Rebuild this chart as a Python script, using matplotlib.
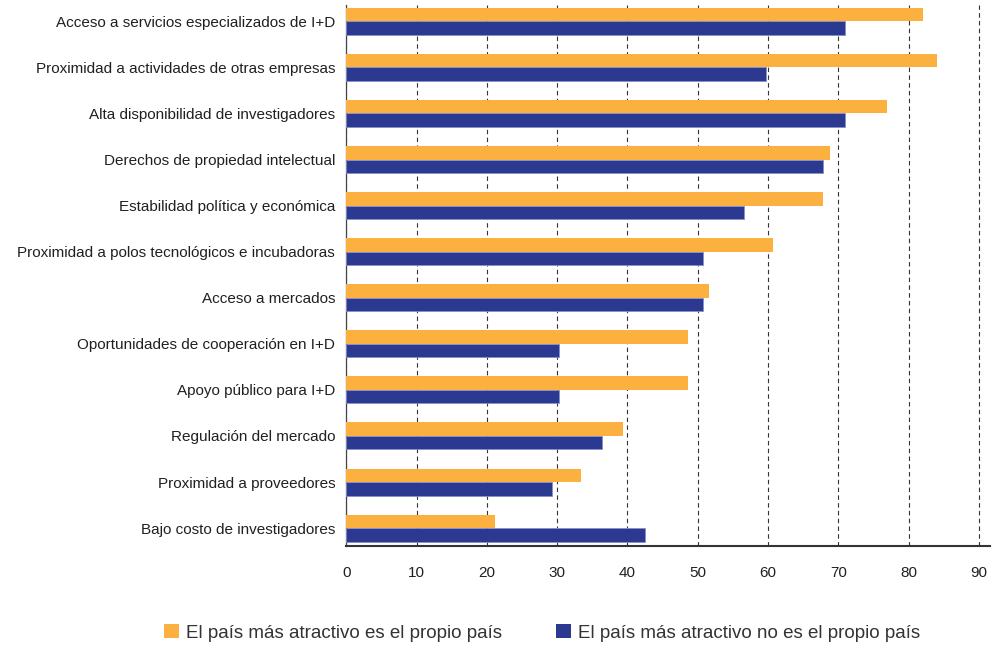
import matplotlib
matplotlib.use("Agg")
import matplotlib.pyplot as plt
from matplotlib.patches import Patch

plt.rcParams['font.family'] = ['Liberation Sans', 'DejaVu Sans']

categorias = [
    "Acceso a servicios especializados de I+D",
    "Proximidad a actividades de otras empresas",
    "Alta disponibilidad de investigadores",
    "Derechos de propiedad intelectual",
    "Estabilidad política y económica",
    "Proximidad a polos tecnológicos e incubadoras",
    "Acceso a mercados",
    "Oportunidades de cooperación en I+D",
    "Apoyo público para I+D",
    "Regulación del mercado",
    "Proximidad a proveedores",
    "Bajo costo de investigadores",
]
propio_pais = [82.0, 84.1, 76.9, 68.9, 67.8, 60.7, 51.6, 48.6, 48.6, 39.4, 33.4, 21.1]
otro_pais = [71.0, 59.7, 71.0, 67.8, 56.6, 50.7, 50.7, 30.2, 30.2, 36.4, 29.3, 42.5]
ticks_x = [0, 10, 20, 30, 40, 50, 60, 70, 80, 90]

naranja = "#FBB040"
azul = "#2B3990"
texto = "#231F20"

fig = plt.figure(figsize=(9.95, 6.47), dpi=100)
ax = fig.add_axes([0.348, 0.156, 0.647, 0.836])

y = list(range(len(categorias)))
h = 0.293
ax.barh([v - h / 2 for v in y], propio_pais, height=h, color=naranja, zorder=3)
ax.barh([v + h / 2 for v in y], otro_pais, height=h, color=azul,
        edgecolor="#8890C8", linewidth=0.6, zorder=3)

ax.set_xlim(0, 91.6)
ax.set_ylim(11.39, -0.35)
ax.set_xticks(ticks_x)
ax.set_yticks(y)
ax.set_yticklabels(categorias, fontsize=11, color=texto)
ax.tick_params(axis='x', length=0, pad=14, labelsize=11, labelcolor=texto)
ax.tick_params(axis='y', length=0, pad=8)

ax.grid(axis='x', color="#333333", linestyle=(0, (4, 3)), linewidth=0.8, zorder=0)
for s in ['top', 'right']:
    ax.spines[s].set_visible(False)
ax.spines['left'].set_color("#444444")
ax.spines['left'].set_linewidth(0.9)
ax.spines['bottom'].set_color("#333333")
ax.spines['bottom'].set_linewidth(1.5)

handles = [Patch(facecolor=naranja, label="El país más atractivo es el propio país"),
           Patch(facecolor=azul, label="El país más atractivo no es el propio país")]
fig.legend(handles=handles, loc='center', bbox_to_anchor=(0.545, 0.022), ncol=2,
           frameon=False, fontsize=13.5, handlelength=0.8, handleheight=0.8,
           handletextpad=0.35, columnspacing=2.9, labelcolor="#333333")

fig.savefig("out.png", dpi=100)
